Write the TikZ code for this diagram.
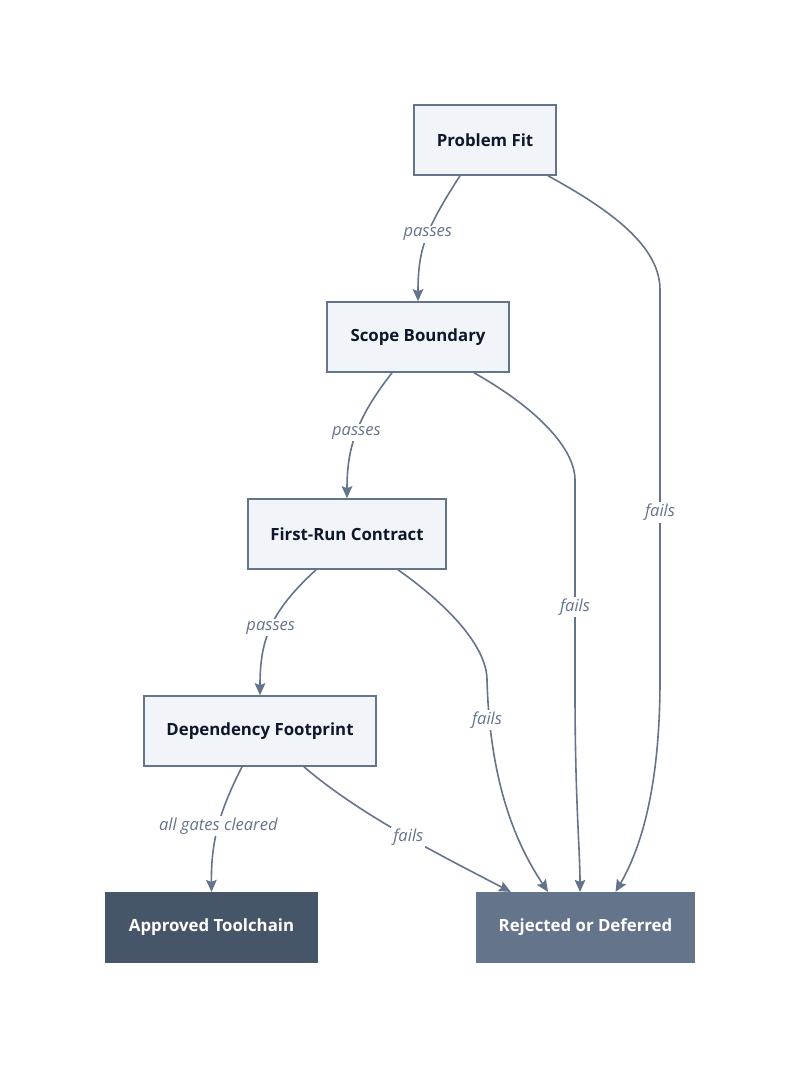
\documentclass[tikz,border=0pt]{standalone}
\usepackage{fontspec}
\setmainfont{Open Sans}
\usetikzlibrary{arrows.meta}
\definecolor{boxfill}{HTML}{F1F5F9}
\definecolor{slate}{HTML}{64748B}
\definecolor{darkslate}{HTML}{475569}
\definecolor{ink}{HTML}{0F172A}
\tikzset{
  gate/.style={draw=slate, fill=boxfill, line width=1.2pt, text=ink, font=\bfseries\fontsize{12.6}{14}\selectfont, inner sep=0pt, minimum height=52.5pt},
  outcome/.style={draw=none, text=white, font=\bfseries\fontsize{12.6}{14}\selectfont, inner sep=0pt, minimum height=53pt},
  edge/.style={draw=slate, line width=1.2pt, -{Stealth[length=9pt,width=8pt,inset=1.5pt]}},
  lbl/.style={fill=white, text=slate, font=\itshape\fontsize{12.4}{14}\selectfont, inner sep=1.5pt}
}
\begin{document}
\begin{tikzpicture}[x=0.75pt,y=-0.75pt]
\useasboundingbox (0,0) rectangle (800,1068);
\fill[white] (0,0) rectangle (800,1068);
% nodes
\node[gate, minimum width=106.5pt] (pf) at (485,140) {Problem Fit};
\node[gate, minimum width=136.5pt] (sb) at (418,337) {Scope Boundary};
\node[gate, minimum width=148.5pt] (fr) at (347,534) {First-Run Contract};
\node[gate, minimum width=174pt] (df) at (260,731) {Dependency Footprint};
\node[outcome, fill=darkslate, minimum width=160pt] (ap) at (211.5,927.5) {Approved Toolchain};
\node[outcome, fill=slate, minimum width=164pt] (rj) at (585.5,927.5) {Rejected or Deferred};
% edges
\draw[edge] ([xshift=-18.75pt]pf.south) .. controls (425,230) and (418,250) .. (sb.north)
  node[lbl, pos=0.45] {passes};
\draw[edge] ([xshift=47.25pt]pf.south) .. controls (620,215) and (660,250) .. (660,290)
  -- (660,680) node[lbl, pos=0.57] {fails}
  .. controls (660,790) and (640,850) .. ([xshift=22.5pt]rj.north);
\draw[edge] ([xshift=-19.5pt]sb.south) .. controls (355,420) and (347,450) .. (fr.north)
  node[lbl, pos=0.48] {passes};
\draw[edge] ([xshift=42pt]sb.south) .. controls (540,410) and (575,450) .. (575,480)
  -- (575,690) node[lbl, pos=0.605] {fails}
  .. controls (575,800) and (580,850) .. ([xshift=-4.1pt]rj.north);
\draw[edge] ([xshift=-23.25pt]fr.south) .. controls (270,612) and (260,640) .. (df.north)
  node[lbl, pos=0.5] {passes};
\draw[edge] ([xshift=38.25pt]fr.south) .. controls (455,610) and (487,650) .. (487,680)
  .. controls (490,790) and (520,850) .. ([xshift=-28.1pt]rj.north);
\node[lbl] (f3) at (487,720) {fails};
\draw[edge] ([xshift=-13.5pt]df.south) .. controls (220,810) and (211,840) .. (ap.north)
  node[lbl, pos=0.5] {all gates cleared};
\draw[edge] ([xshift=33pt]df.south) .. controls (360,815) and (440,855) .. ([xshift=-56pt]rj.north)
  node[lbl, pos=0.53] {fails};
\end{tikzpicture}
\end{document}
